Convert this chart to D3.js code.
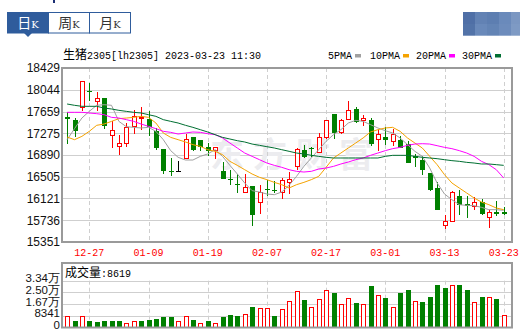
<!DOCTYPE html>
<html><head><meta charset="utf-8">
<script src="https://cdn.jsdelivr.net/npm/d3@7"></script>
<style>body{margin:0;background:#fff}svg{display:block}</style>
</head><body><svg id="c" width="520" height="334"></svg>
<script>
const dates=["12-22","12-23","12-26","12-27","12-28","12-29","12-30","01-03","01-04","01-05","01-06","01-09","01-10","01-11","01-12","01-13","01-16","01-17","01-18","01-19","01-20","01-30","01-31","02-01","02-02","02-03","02-06","02-07","02-08","02-09","02-10","02-13","02-14","02-15","02-16","02-17","02-20","02-21","02-22","02-23","02-24","02-27","02-28","03-01","03-02","03-03","03-06","03-07","03-08","03-09","03-10","03-13","03-14","03-15","03-16","03-17","03-20","03-21","03-22","03-23"];
const open=[17562,17497,17733,18020,17828,17898,17238,17043,17090,17391,17533,17515,17309,16996,16601,16601,16825,17191,17143,17014,16967,16601,16460,16370,16229,16324,16053,16280,16270,16218,16406,16678,16972,17008,16937,17202,17603,17291,17515,17692,17497,17503,17161,17208,17120,17149,17073,16860,16801,16571,16306,15646,15716,16159,16017,15982,16041,15787,15870,15870];
const close=[17539,17320,18193,18010,17898,17409,17326,17096,17368,17568,17562,17397,17014,16613,16590,16601,17173,16984,17043,16967,17014,16483,16450,16360,16318,15834,16229,16274,16262,16436,16465,16984,16866,17002,17208,17503,17291,17503,17680,17485,17544,17102,17261,17161,17250,17031,16760,16854,16630,16277,15923,15716,16229,16011,16005,16041,15852,15881,15858,15864];
const high=[17657,17544,18193,18164,18004,17898,17485,17250,17456,17680,17739,17662,17368,16996,16837,16778,17267,17191,17143,17102,17026,16760,16630,16554,16554,16324,16365,16454,16424,16483,16583,17014,17073,17026,17279,17515,17615,17533,17839,17739,17603,17544,17338,17379,17350,17220,17132,16913,16866,16571,16406,15834,16247,16277,16170,16147,16111,15923,16070,15964];
const low=[17084,17202,17674,17851,17674,17350,17014,16896,17026,17267,17338,17220,16984,16554,16512,16589,16825,16955,16967,16866,16825,16483,16365,16218,16229,15640,15852,16159,16218,16117,16206,16630,16837,16849,16937,17173,17173,17261,17515,17456,17397,17043,16955,17073,17055,17014,16748,16672,16542,16259,15923,15587,15716,15834,15775,15923,15834,15598,15805,15834];
const ma5=[17161,17356,17544,17662,17769,17780,17769,17485,17391,17379,17368,17379,17309,17161,16967,16849,16801,16801,16866,16908,16984,16866,16707,16554,16395,16259,16235,16200,16188,16235,16353,16512,16689,16837,16984,17132,17250,17338,17456,17503,17485,17427,17368,17320,17279,17191,17073,16955,16866,16660,16395,16200,16100,16011,15999,15994,15964,15923,15923,15911];
const ma10=[17208,17161,17220,17309,17415,17438,17485,17533,17544,17556,17574,17556,17456,17279,17202,17161,17120,17073,17043,16984,16955,16896,16778,16707,16630,16554,16495,16454,16406,16365,16306,16365,16406,16454,16512,16672,16837,16925,17014,17102,17191,17297,17338,17368,17379,17309,17191,17102,17014,16866,16719,16542,16395,16306,16218,16129,16058,16011,15952,15923];
const ma20=[17645,17645,17645,17633,17621,17603,17556,17544,17515,17485,17438,17397,17356,17309,17291,17261,17279,17297,17291,17267,17250,17191,17102,17014,16925,16866,16807,16748,16707,16672,16630,16601,16589,16601,16642,16660,16689,16731,16766,16807,16837,16884,16925,16967,17002,17025,17061,17084,17090,17084,17055,17025,17002,16967,16925,16866,16778,16719,16630,16483];
const ma30=[17792,17769,17751,17751,17751,17721,17704,17680,17662,17645,17633,17603,17574,17515,17485,17456,17415,17379,17338,17297,17250,17202,17173,17143,17120,17084,17061,17037,17014,16984,16955,16925,16908,16884,16866,16849,16837,16837,16837,16837,16837,16837,16837,16866,16884,16884,16884,16866,16849,16837,16825,16807,16790,16778,16760,16748,16731,16731,16719,16707];
const volume=[7927,4324,7927,4324,3603,4324,4324,4324,3123,4084,4324,5044,5765,7206,7206,4084,7686,5044,3123,4324,3123,7206,8647,7927,9127,14412,13475,13475,7927,12971,18736,25942,19456,14172,20177,26423,24500,16335,20657,17776,16335,29545,22818,20897,14172,24500,26662,18736,18015,21618,30265,28103,30025,30265,26903,17776,21618,21378,20417,8619];
const volUp=[1,0,1,0,0,0,0,0,1,1,0,0,0,0,0,1,1,0,1,0,1,0,0,0,1,0,1,1,0,1,1,1,0,1,1,1,0,1,1,0,1,0,1,0,1,0,0,1,0,0,0,0,1,0,0,1,0,1,0,1];
const yTicks=[15351,15736,16121,16505,16890,17275,17659,18044,18429];
const volTicks=[0,8341,16682,25023,33364];
const volTickLabels=["0","8341","1.67万","2.50万","3.34万"];
const xTickLabels=["12-27","01-09","01-19","02-07","02-17","03-01","03-13","03-23"];
const maNames=["5PMA","10PMA","20PMA","30PMA"];
const maColors=["#a0a0a0","#f5a300","#ff00ff","#006f32"];
const title="2305[lh2305] 2023-03-23 11:30";
const lastVol="8619";

const svg=d3.select("#c");
svg.append("rect").attr("width",520).attr("height",334).attr("fill","#fff");
const L=62,R=512,T=68,B=242;
const VT=263,VB=327.5,VG=280.7;
const x=d3.scaleBand().domain(dates).range([63.4,507.4]);
const cx=d=>x(d)+x.bandwidth()/2;
const y=d3.scaleLinear().domain([15351,18429]).range([B,T]);
const vy=d3.scaleLinear().domain([0,33364]).range([VB,VG]);
const mono="'Liberation Mono','DejaVu Sans Mono',monospace";
const sans="'Liberation Sans',Arial,sans-serif";

// tabs
const tabs=svg.append("g");
const tabNames=[["日","K"],["周","K"],["月","K"]];
tabNames.forEach((t,i)=>{
  const x0=7.5+i*41;
  tabs.append("rect").attr("x",x0).attr("y",12.5).attr("width",41).attr("height",20.5)
    .attr("fill",i===0?"#2f5c9c":"#fff").attr("stroke","#2f5c9c").attr("stroke-width",1);
  const tx=tabs.append("text").attr("x",x0+20.5).attr("y",28).attr("text-anchor","middle")
    .attr("fill",i===0?"#fff":"#333");
  tx.append("tspan").attr("font-family","'Noto Sans CJK SC',sans-serif").attr("font-size",14).text(t[0]);
  tx.append("tspan").attr("font-family","'DejaVu Serif',serif").attr("font-size",10).text(t[1]);
});
tabs.append("path").attr("d","M24,33 L32,33 L28,37 Z").attr("fill","#2f5c9c");
svg.append("rect").attr("x",53).attr("y",0).attr("width",2).attr("height",3).attr("fill","#1c2f74");
// blurred button top right
const blur=[["#4f6fa6","#6282b4","#5d7eb1","#6a8abb","#7b97c2"],["#5273a8","#6989ba","#6384b5","#6d8cbc","#7e9ac4"]];
blur.forEach((row,r)=>row.forEach((c,k)=>{
  svg.append("rect").attr("x",463+k*12).attr("y",12+r*12).attr("width",12).attr("height",r?11.7:12).attr("fill",c);
}));

// title
const tt=svg.append("text").attr("x",63).attr("y",59).attr("font-family",mono).attr("font-size",10).attr("fill","#000");
tt.append("tspan").attr("font-family","'Noto Sans CJK SC',sans-serif").attr("font-size",12).text("生猪");
tt.append("tspan").text(title);
// legend
const legX=[328,370,416,462];
maNames.forEach((n,i)=>{
  svg.append("text").attr("x",legX[i]).attr("y",59).attr("font-family",mono).attr("font-size",10).attr("fill","#000").text(n);
  const w=n.length*6;
  svg.append("rect").attr("x",legX[i]+w+3).attr("y",54).attr("width",6).attr("height",3.5).attr("fill",maColors[i]);
});

// grid main
svg.append("g").attr("transform",`translate(${L},0)`)
  .call(d3.axisLeft(y).tickValues(yTicks).tickSize(-(R-L)).tickFormat(""))
  .call(g=>g.select(".domain").remove())
  .call(g=>g.selectAll("line").attr("stroke","#cfcfcf").attr("shape-rendering","crispEdges"));
// watermark
svg.append("text").attr("x",210).attr("y",167).attr("font-family","'Noto Sans CJK SC',sans-serif")
  .attr("font-size",34).attr("font-weight","bold").attr("letter-spacing",9).attr("fill","#ececef").text("东方财富");
// dashed verticals
const vg=svg.append("g");
xTickLabels.forEach(d=>{
  const xx=Math.round(cx(d))+0.5;
  vg.append("line").attr("x1",xx).attr("x2",xx).attr("y1",T).attr("y2",B).attr("stroke","#cfcfcf").attr("stroke-dasharray","4,3");
  vg.append("line").attr("x1",xx).attr("x2",xx).attr("y1",VG).attr("y2",VB).attr("stroke","#cfcfcf").attr("stroke-dasharray","4,3");
});
// y labels
svg.append("g").attr("transform",`translate(${L},0)`)
  .call(d3.axisLeft(y).tickValues(yTicks).tickSize(0).tickPadding(2).tickFormat(d=>d))
  .call(g=>g.select(".domain").remove())
  .call(g=>g.selectAll("text").attr("font-family",sans).attr("font-size",12).attr("fill","#111"));
// x labels
svg.append("g").attr("transform",`translate(0,${B})`)
  .call(d3.axisBottom(x).tickValues(xTickLabels).tickSize(0).tickPadding(7))
  .call(g=>g.select(".domain").remove())
  .call(g=>g.selectAll("text").attr("font-family",mono).attr("font-size",10).attr("fill","#ff0000"));

// candles
const idx=d3.range(dates.length);
const cg=svg.append("g").attr("shape-rendering","crispEdges");
idx.forEach(i=>{
  const d=dates[i];
  const c=close[i]>open[i]?"#ff0000":(close[i]<open[i]?"#008000":"#000");
  const xx=Math.round(cx(d))+0.5;
  cg.append("line").attr("x1",xx).attr("x2",xx).attr("y1",y(high[i])).attr("y2",y(low[i])).attr("stroke",c);
  const top=y(Math.max(open[i],close[i])), bot=y(Math.min(open[i],close[i]));
  if(close[i]>open[i]){
    cg.append("rect").attr("x",xx-2).attr("y",top).attr("width",4).attr("height",Math.max(1,bot-top)).attr("fill","#fff").attr("stroke",c);
  } else {
    cg.append("rect").attr("x",xx-2.5).attr("y",top-0.5).attr("width",5).attr("height",Math.max(1,bot-top+1)).attr("fill",c);
  }
});
// MA lines
[ma5,ma10,ma20,ma30].forEach((arr,k)=>{
  svg.append("path").datum(idx).attr("fill","none").attr("stroke",maColors[k]).attr("stroke-width",1)
    .attr("d",d3.line().x(i=>cx(dates[i])).y(i=>y(arr[i])));
});
// main frame
svg.append("rect").attr("x",L).attr("y",T).attr("width",R-L).attr("height",B-T).attr("fill","none").attr("stroke","#9a9a9a").attr("stroke-width",2);

// volume grid
svg.append("g").attr("transform",`translate(${L},0)`)
  .call(d3.axisLeft(vy).tickValues(volTicks.slice(1)).tickSize(-(R-L)).tickFormat(""))
  .call(g=>g.select(".domain").remove())
  .call(g=>g.selectAll("line").attr("stroke","#cfcfcf").attr("shape-rendering","crispEdges"));
svg.append("g").attr("transform",`translate(${L},0)`)
  .call(d3.axisLeft(vy).tickValues(volTicks).tickSize(0).tickPadding(2).tickFormat((d,i)=>volTickLabels[i]))
  .call(g=>g.select(".domain").remove())
  .call(g=>g.selectAll("text").attr("font-family",sans).attr("font-size",11.5).attr("fill","#111").attr("dy","0.08em"));
const vgB=svg.append("g").attr("shape-rendering","crispEdges");
idx.forEach(i=>{
  const xx=Math.round(cx(dates[i]))+0.5;
  const t=vy(volume[i]);
  if(volUp[i]) vgB.append("rect").attr("x",xx-2).attr("y",t).attr("width",4).attr("height",VB-t).attr("fill","#fff").attr("stroke","#ff0000");
  else vgB.append("rect").attr("x",xx-2.5).attr("y",t).attr("width",5).attr("height",VB-t).attr("fill","#008000");
});
svg.append("rect").attr("x",L).attr("y",VT).attr("width",R-L).attr("height",VB-VT).attr("fill","none").attr("stroke","#9a9a9a").attr("stroke-width",2);
const vt=svg.append("text").attr("x",65).attr("y",277).attr("fill","#000");
vt.append("tspan").attr("font-family","'Noto Sans CJK SC',sans-serif").attr("font-size",12).text("成交量");
vt.append("tspan").attr("font-family",mono).attr("font-size",10).text(":"+lastVol);
</script></body></html>
